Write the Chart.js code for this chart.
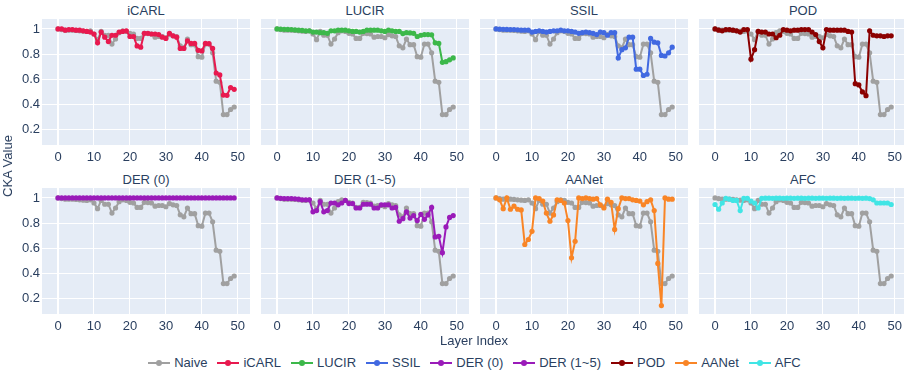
<!DOCTYPE html>
<html>
<head>
<meta charset="utf-8">
<script src="https://cdn.jsdelivr.net/npm/chart.js@4.4.1/dist/chart.umd.min.js"></script>
<style>
body { margin:0; width:904px; height:377px; overflow:hidden; background:#fff; position:relative;
  font-family:"Liberation Sans", Arial, sans-serif; color:#2a3f5f; }
.panel { position:absolute; }
.ttl { position:absolute; width:208px; text-align:center; font-size:13px; line-height:16px; }
.axt { position:absolute; font-size:13px; line-height:16px; white-space:nowrap; }
#legend { position:absolute; left:47px; width:865px; top:355px; display:flex; justify-content:center; font-size:13px; line-height:16px; }
.item { display:flex; align-items:center; margin-right:10px; }
.sym { position:relative; width:22px; height:16px; margin-right:4px; }
.sym i { position:absolute; left:0; right:0; top:7px; height:2px; }
.sym b { position:absolute; left:8px; top:5px; width:6px; height:6px; border-radius:50%; }
</style>
</head>
<body>
<div id="legend"></div>
<script>
var layers = [0,1,2,3,4,5,6,7,8,9,10,11,12,13,14,15,16,17,18,19,20,21,22,23,24,
  25,26,27,28,29,30,31,32,33,34,35,36,37,38,39,40,41,42,43,44,45,46,47,48,49];

var naive = [1.0,0.995,0.99,0.99,0.99,0.988,0.985,0.982,0.98,0.985,
  0.96,0.915,0.98,0.95,0.95,0.88,0.92,0.97,0.985,0.98,
  0.965,0.96,0.925,0.925,0.965,0.963,0.96,0.935,0.94,0.94,
  0.93,0.955,0.945,0.94,0.866,0.85,0.92,0.875,0.875,0.78,
  0.776,0.88,0.88,0.81,0.585,0.576,0.32,0.32,0.36,0.38];
var icarl = [1.0,1.0,0.99,0.995,0.995,0.99,0.99,0.985,0.98,0.975,
  0.96,0.89,0.975,0.935,0.90,0.95,0.95,0.975,0.98,0.985,
  0.94,0.94,0.865,0.855,0.965,0.965,0.96,0.96,0.955,0.935,
  0.925,0.965,0.945,0.935,0.845,0.845,0.905,0.885,0.885,0.83,
  0.825,0.885,0.883,0.845,0.65,0.635,0.475,0.473,0.535,0.52];
var lucir = [1.0,0.998,0.997,0.996,0.995,0.992,0.99,0.988,0.985,0.985,
  0.975,0.975,0.97,0.97,0.965,0.985,0.985,0.99,0.99,0.99,
  0.985,0.98,0.98,0.975,0.98,0.99,0.99,0.99,0.99,0.985,
  0.98,0.99,0.985,0.98,0.98,0.963,0.97,0.968,0.965,0.94,
  0.95,0.955,0.955,0.953,0.89,0.885,0.735,0.74,0.755,0.77];
var ssil = [1.0,0.998,0.997,0.996,0.995,0.995,0.993,0.99,0.99,0.99,
  0.975,0.98,0.985,0.98,0.975,0.98,0.985,0.985,0.99,0.985,
  0.985,0.98,0.975,0.965,0.97,0.975,0.97,0.965,0.955,0.975,
  0.97,0.95,0.97,0.97,0.77,0.835,0.85,0.935,0.935,0.68,
  0.68,0.63,0.64,0.925,0.895,0.89,0.79,0.785,0.81,0.855];
var der0 = [1,1,1,1,1,1,1,1,1,1, 1,1,1,1,1,1,1,1,1,1, 1,1,1,1,1,1,1,1,1,1,
  1,1,1,1,1,1,1,1,1,1, 1,1,1,1,1,1,1,1,1,1];
var der15 = [1.0,0.997,0.995,0.995,0.995,0.993,0.99,0.985,0.985,0.985,
  0.89,0.9,0.97,0.89,0.9,0.96,0.96,0.945,0.96,0.98,
  0.955,0.955,0.92,0.92,0.95,0.95,0.95,0.92,0.92,0.945,
  0.945,0.945,0.92,0.925,0.815,0.835,0.89,0.84,0.86,0.82,
  0.87,0.83,0.865,0.925,0.69,0.695,0.565,0.77,0.845,0.86];
var pod = [1.0,0.99,0.985,0.995,0.995,0.99,0.985,0.975,0.995,0.995,
  0.76,0.835,0.98,0.975,0.975,0.96,0.96,0.93,0.95,0.995,
  0.99,0.985,0.99,0.99,0.995,0.995,0.995,0.975,0.955,0.9,
  0.85,0.995,0.99,0.99,0.99,0.99,0.99,0.98,0.975,0.565,
  0.555,0.5,0.47,0.985,0.95,0.945,0.945,0.94,0.945,0.945];
var aanet = [1.0,0.985,0.915,1.0,0.91,0.935,0.91,0.905,0.63,0.67,
  0.735,1.0,0.995,0.975,0.88,0.815,0.865,0.985,0.98,0.96,
  0.82,0.525,0.655,1.0,0.995,1.0,0.995,0.99,0.995,0.945,
  0.92,0.99,0.965,0.75,0.915,1.0,0.995,0.995,0.985,0.98,
  0.975,0.945,0.97,0.985,0.9,0.48,0.145,1.0,0.99,0.99];
var afc = [0.948,0.91,0.96,0.997,0.99,0.98,0.98,0.9,0.997,0.997,
  0.975,0.96,0.92,0.997,0.998,0.998,0.997,0.998,0.998,0.997,
  0.998,0.998,0.997,0.998,0.998,0.997,0.998,0.998,0.997,0.998,
  0.998,0.997,0.998,0.998,0.997,0.998,0.997,0.998,0.998,0.997,
  0.998,0.997,0.998,0.995,0.985,0.96,0.96,0.96,0.96,0.948];

var methodNames = ["iCARL", "LUCIR", "SSIL", "POD", "DER (0)", "DER (1~5)", "AANet", "AFC"];
var methodData = [icarl, lucir, ssil, pod, der0, der15, aanet, afc];
var methodColors = ["#e8194f", "#3cb84a", "#4169e1", "#8b0000", "#9a1bb9", "#9a1bb9", "#f98526", "#40e5e5"];
var naiveColor = "#a0a0a0";

var legendNames = ["Naive", "iCARL", "LUCIR", "SSIL", "DER (0)", "DER (1~5)", "POD", "AANet", "AFC"];
var legendColors = [naiveColor, "#e8194f", "#3cb84a", "#4169e1", "#9a1bb9", "#9a1bb9", "#8b0000", "#f98526", "#40e5e5"];

var yTicks = [0.2, 0.4, 0.6, 0.8, 1];
var xTicks = [0, 10, 20, 30, 40, 50];

// layout of the 2x4 grid (plot areas)
var colLeft = [42, 261, 480, 699];
var rowTop = [19, 188];
var plotW = 208, plotH = 126, yLabW = 42, xLabH = 22;
var fontFam = '"Liberation Sans", Arial, sans-serif';
var textCol = "#2a3f5f";

var bgPlugin = {
  id: "plotBg",
  beforeDraw: function(chart) {
    var a = chart.chartArea, ctx = chart.ctx;
    ctx.save();
    ctx.fillStyle = "#e5ecf6";
    ctx.fillRect(a.left, a.top, a.right - a.left, a.bottom - a.top);
    ctx.restore();
  }
};

function points(vals) {
  return layers.map(function(l, i) { return { x: l, y: vals[i] }; });
}

function series(label, vals, color) {
  return {
    label: label, data: points(vals),
    borderColor: color, backgroundColor: color,
    borderWidth: 2, pointRadius: 2.6, pointBorderWidth: 0,
    pointBackgroundColor: color, tension: 0
  };
}

// chart.js reserves room for half a tick label at the axis ends; the plot area here is fixed
function noPad(s) {
  s.paddingTop = 0; s.paddingBottom = 0; s.paddingLeft = 0; s.paddingRight = 0;
}

function makePanel(k) {
  var col = k % 4, row = Math.floor(k / 4);
  var first = col === 0;
  var div = document.createElement("div");
  div.className = "panel";
  var w = plotW + (first ? yLabW : 0), h = plotH + xLabH;
  div.style.left = (colLeft[col] - (first ? yLabW : 0)) + "px";
  div.style.top = rowTop[row] + "px";
  div.style.width = w + "px";
  div.style.height = h + "px";
  var cv = document.createElement("canvas");
  cv.width = w; cv.height = h;
  div.appendChild(cv);
  document.body.appendChild(div);

  var t = document.createElement("div");
  t.className = "ttl";
  t.style.left = colLeft[col] + "px";
  t.style.top = (rowTop[row] - 16) + "px";
  t.textContent = methodNames[k];
  document.body.appendChild(t);

  new Chart(cv, {
    type: "line",
    data: {
      datasets: [
        series(methodNames[k], methodData[k], methodColors[k]),
        series("Naive", naive, naiveColor)
      ]
    },
    plugins: [bgPlugin],
    options: {
      responsive: false, animation: false,
      layout: { padding: 0, autoPadding: false },
      plugins: { legend: { display: false }, tooltip: { enabled: false } },
      scales: {
        x: {
          type: "linear", min: -4.46, max: 53.4,
          afterBuildTicks: function(s) { s.ticks = xTicks.map(function(v) { return { value: v }; }); },
          afterFit: function(s) { s.height = xLabH; noPad(s); },
          grid: { color: "#ffffff", drawTicks: false,
            lineWidth: function(c) { return c.tick && c.tick.value === 0 ? 2 : 1; } },
          border: { display: false },
          ticks: { padding: 5, color: textCol, font: { family: fontFam, size: 13 }, maxRotation: 0 }
        },
        y: {
          min: 0.078, max: 1.079,
          afterBuildTicks: function(s) { s.ticks = yTicks.map(function(v) { return { value: v }; }); },
          afterFit: function(s) { s.width = first ? yLabW : 0; noPad(s); },
          grid: { color: "#ffffff", lineWidth: 1, drawTicks: false },
          border: { display: false },
          ticks: { display: first, padding: 2, color: textCol, font: { family: fontFam, size: 13 },
            callback: function(v) { return String(v); } }
        }
      }
    }
  });
}

for (var k = 0; k < 8; k++) makePanel(k);

// axis titles
var yt = document.createElement("div");
yt.className = "axt";
yt.textContent = "CKA Value";
yt.style.left = "8px"; yt.style.top = "166px";
yt.style.transform = "translate(-50%,-50%) rotate(-90deg)";
document.body.appendChild(yt);

var xt = document.createElement("div");
xt.className = "axt";
xt.textContent = "Layer Index";
xt.style.left = "474px"; xt.style.top = "341px";
xt.style.transform = "translate(-50%,-50%)";
document.body.appendChild(xt);

// legend
var lg = document.getElementById("legend");
legendNames.forEach(function(n, i) {
  var it = document.createElement("div");
  it.className = "item";
  it.innerHTML = '<span class="sym"><i style="background:' + legendColors[i] + '"></i><b style="background:' +
    legendColors[i] + '"></b></span><span>' + n + '</span>';
  lg.appendChild(it);
});
</script>
</body>
</html>
